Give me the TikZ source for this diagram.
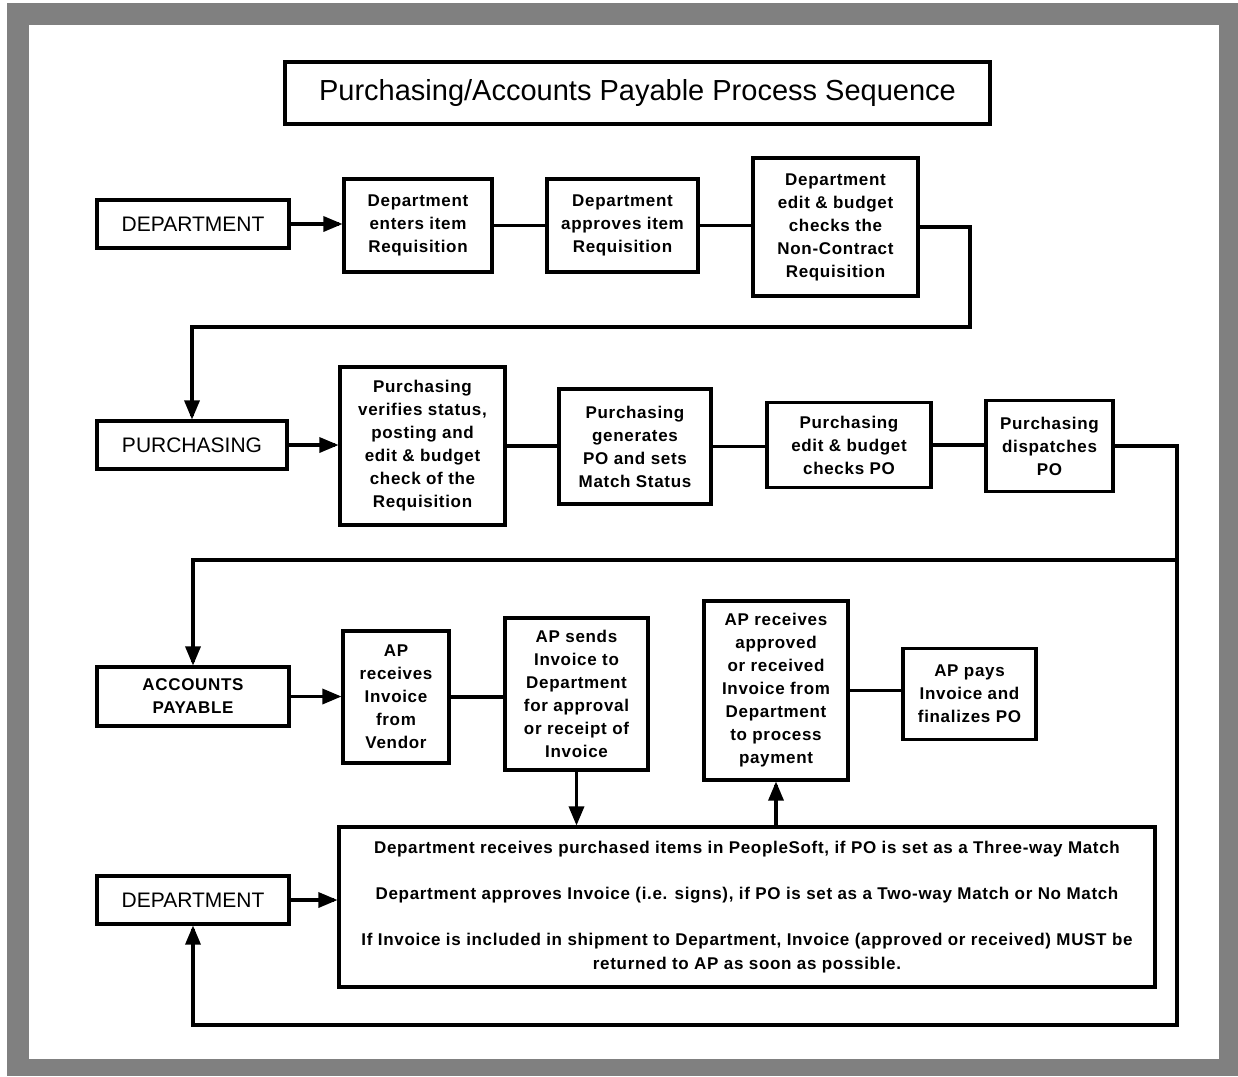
\documentclass[tikz,border=0pt]{standalone}
\usepackage{fontspec}
\setmainfont{Liberation Sans}
\newfontfamily\boxfont{Liberation Sans}[LetterSpace=4]
\usetikzlibrary{arrows}

\begin{document}
\begin{tikzpicture}[line cap=rect,line join=miter,>=triangle 45,x=1pt,y=-1pt,
	stepbox/.style={draw,line width=3.5pt,fill=white,inner sep=0pt,align=center,
		font=\boxfont\bfseries\fontsize{17}{23}\selectfont},
	lanebox/.style={draw,line width=3.5pt,fill=white,inner sep=0pt,align=center,
		minimum width=192pt,minimum height=48pt,font=\fontsize{21}{25}\selectfont},
	wire/.style={line width=3.5pt}]%frame 1238x1076
	\useasboundingbox (0,0) rectangle (1238,1076);
	\fill [gray] (7,3) rectangle (1238,1076);
	\fill [white] (29,25) rectangle (1219,1059);
	\node [draw,line width=3.5pt,minimum width=705pt,minimum height=62pt,inner sep=0pt,
		font=\fontsize{29}{33}\selectfont] (title) at (637.5,93) {Purchasing/Accounts Payable Process Sequence};
	% department
	\node [lanebox] (d1) at (193,224) {DEPARTMENT};
	\node [stepbox,minimum width=148pt,minimum height=93pt] (b1) at (418,225.5) {Department\\enters item\\Requisition};
	\node [stepbox,minimum width=151pt,minimum height=93pt] (b2) at (622.5,225.5) {Department\\approves item\\Requisition};
	\node [stepbox,minimum width=165pt,minimum height=138pt] (b3) at (835.5,227) {Department\\edit \& budget\\checks the\\Non-Contract\\Requisition};
	% purchasing
	\node [lanebox,minimum width=190pt] (p1) at (192,445) {PURCHASING};
	\node [stepbox,minimum width=165pt,minimum height=158pt] (c1) at (422.5,446) {Purchasing\\verifies status,\\posting and\\edit \& budget\\check of the\\Requisition};
	\node [stepbox,minimum width=152pt,minimum height=115pt] (c2) at (635,446.5) {Purchasing\\generates\\PO and sets\\Match Status};
	\node [stepbox,minimum width=164pt,minimum height=85pt] (c3) at (849,445) {Purchasing\\edit \& budget\\checks PO};
	\node [stepbox,minimum width=127pt,minimum height=91pt] (c4) at (1049.5,446) {Purchasing\\dispatches\\PO};
	% accounts payable
	\node [lanebox,minimum height=59pt,font=\boxfont\bfseries\fontsize{17}{23}\selectfont] (a1) at (193,696.5) {ACCOUNTS\\PAYABLE};
	\node [stepbox,minimum width=106pt,minimum height=132pt] (e1) at (396,697) {AP\\receives\\Invoice\\from\\Vendor};
	\node [stepbox,minimum width=143pt,minimum height=152pt] (e2) at (576.5,694) {AP sends\\Invoice to\\Department\\for approval\\or receipt of\\Invoice};
	\node [stepbox,minimum width=144pt,minimum height=179pt] (e3) at (776,690.5) {AP receives\\approved\\or received\\Invoice from\\Department\\to process\\payment};
	\node [stepbox,minimum width=133pt,minimum height=91pt] (e4) at (969.5,694) {AP pays\\Invoice and\\finalizes PO};
	% department (receiving)
	\node [lanebox] (d2) at (193,900) {DEPARTMENT};
	\node [stepbox,minimum width=816pt,minimum height=160pt,font=\boxfont\bfseries\fontsize{17}{24}\selectfont] (f1) at (747,907)
		{Department receives purchased items in PeopleSoft, if PO is set as a Three-way Match\\[22pt]
		Department approves Invoice (i.e. signs), if PO is set as a Two-way Match or No Match\\[22pt]
		If Invoice is included in shipment to Department, Invoice (approved or received) MUST be\\
		returned to AP as soon as possible.};
	\coordinate (r1) at (970,327);
	\coordinate (r2) at (1177,1025);
	\coordinate (r3) at (1177,560);
	\draw [wire,->] (d1.east) -- (d1.east -| b1.west);
	\draw [wire] (b1.east) -- (b1.east -| b2.west);
	\draw [wire] (b2.east) -- (b2.east -| b3.west);
	\draw [wire,->] (b3.east) -| (r1) -| (p1.north);
	\draw [wire,->] (p1.east) -- (p1.east -| c1.west);
	\draw [wire] (c1.east) -- (c1.east -| c2.west);
	\draw [wire] (c2.east) -- (c2.east -| c3.west);
	\draw [wire] (c3.east) -- (c3.east -| c4.west);
	\draw [wire,->] (c4.east) -| (r2) -| (d2.south);
	\draw [wire,->] (r3) -| (a1.north);
	\draw [wire,->] (a1.east) -- (a1.east -| e1.west);
	\draw [wire] (e1.east) -- (e1.east -| e2.west);
	\draw [wire] (e3.east) -- (e3.east -| e4.west);
	\draw [wire,->] (e2.south) -- (e2.south |- f1.north);
	\draw [wire,->] (e3.south |- f1.north) -- (e3.south);
	\draw [wire,->] (d2.east) -- (d2.east -| f1.west);
\end{tikzpicture}
\end{document}
